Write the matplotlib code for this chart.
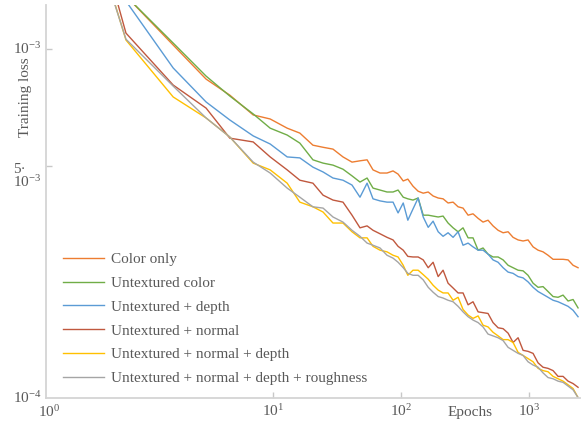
import matplotlib.pyplot as plt
from matplotlib.ticker import NullLocator

# epochs sampled along the curves (shared by all series)
epochs = [0.45, 0.71, 1.66, 3.0, 4.6, 7.0, 9.5, 12.9, 16.2, 20.5,
          24.6, 29.4, 35.2, 41.4, 47.8, 54.3, 60.4, 68.5, 77.7, 86.6,
          94.8, 104, 113, 124, 136, 149, 163, 178, 195, 213,
          233, 255, 279, 305, 334, 365, 400, 437, 478, 523,
          573, 627, 686, 750, 821, 898, 982, 1075, 1176, 1286,
          1407, 1540, 1685, 1843, 2017, 2207, 2414]

# training loss, in units of 1e-4
color_only = [16.05, 13.69, 10.24, 8.37, 7.61, 6.77, 6.61, 6.26, 6.08, 5.66,
              5.59, 5.53, 5.28, 5.12, 5.16, 5.19, 4.89, 4.80, 4.80, 4.86,
              4.77, 4.58, 4.63, 4.44, 4.31, 4.26, 4.29, 4.19, 4.14, 4.12,
              4.02, 4.04, 3.93, 3.90, 3.74, 3.77, 3.67, 3.59, 3.63, 3.51,
              3.42, 3.37, 3.39, 3.28, 3.23, 3.21, 3.23, 3.10, 3.04, 3.01,
              2.95, 2.88, 2.88, 2.88, 2.87, 2.78, 2.74]
untex_color = [15.96, 13.69, 10.36, 8.52, 7.57, 6.81, 6.26, 6.01, 5.73, 5.19,
               5.09, 5.03, 4.91, 4.72, 4.55, 4.66, 4.39, 4.34, 4.29, 4.29,
               4.34, 4.16, 4.12, 4.09, 4.14, 3.74, 3.74, 3.72, 3.70, 3.72,
               3.57, 3.47, 3.39, 3.47, 3.27, 3.27, 3.04, 3.08, 2.97, 2.92,
               2.92, 2.87, 2.78, 2.74, 2.70, 2.69, 2.62, 2.50, 2.44, 2.45,
               2.38, 2.31, 2.30, 2.33, 2.25, 2.27, 2.16]
untex_depth = [16.54, 13.28, 8.94, 7.31, 6.57, 5.98, 5.70, 5.28, 5.25, 4.97,
               4.83, 4.66, 4.60, 4.47, 4.16, 4.52, 4.12, 4.07, 4.04, 4.04,
               3.79, 4.02, 3.63, 3.88, 4.14, 3.70, 3.48, 3.61, 3.39, 3.30,
               3.37, 3.28, 3.39, 3.13, 3.17, 3.10, 3.04, 3.04, 2.97, 2.87,
               2.83, 2.74, 2.67, 2.65, 2.60, 2.58, 2.52, 2.44, 2.38, 2.34,
               2.30, 2.26, 2.24, 2.21, 2.18, 2.13, 2.05]
untex_normal = [18.84, 10.99, 8.08, 7.05, 5.90, 5.77, 5.28, 4.89, 4.60, 4.52,
                4.21, 4.09, 4.04, 3.74, 3.47, 3.51, 3.42, 3.35, 3.28, 3.23,
                3.11, 3.04, 2.93, 2.92, 2.92, 2.87, 2.74, 2.83, 2.60, 2.70,
                2.50, 2.43, 2.36, 2.36, 2.20, 2.24, 2.11, 2.10, 2.09, 1.98,
                1.92, 1.91, 1.86, 1.76, 1.81, 1.68, 1.67, 1.65, 1.56, 1.52,
                1.51, 1.49, 1.44, 1.44, 1.40, 1.38, 1.35]
untex_normal_depth = [17.24, 10.55, 7.53, 6.65, 5.94, 5.09, 4.89, 4.52, 4.04, 3.93,
                      3.81, 3.57, 3.57, 3.39, 3.27, 3.27, 3.11, 3.04, 3.01, 2.95,
                      2.92, 2.78, 2.62, 2.70, 2.70, 2.63, 2.56, 2.47, 2.40, 2.36,
                      2.36, 2.26, 2.30, 2.14, 2.07, 2.03, 2.06, 1.95, 1.93, 1.87,
                      1.83, 1.79, 1.79, 1.76, 1.66, 1.63, 1.60, 1.57, 1.51, 1.49,
                      1.48, 1.44, 1.42, 1.40, 1.37, 1.34, 1.27]
untex_all = [16.93, 10.60, 8.03, 6.65, 5.94, 5.12, 4.80, 4.39, 4.16, 3.93,
             3.90, 3.70, 3.59, 3.42, 3.30, 3.17, 3.13, 3.08, 2.95, 2.90,
             2.83, 2.74, 2.65, 2.62, 2.62, 2.55, 2.44, 2.37, 2.31, 2.29,
             2.26, 2.24, 2.18, 2.11, 2.05, 2.01, 1.98, 1.93, 1.85, 1.83,
             1.81, 1.78, 1.71, 1.68, 1.65, 1.63, 1.57, 1.54, 1.52, 1.47,
             1.43, 1.42, 1.40, 1.39, 1.36, 1.33, 1.27]

labels = ['Color only', 'Untextured color', 'Untextured + depth',
          'Untextured + normal', 'Untextured + normal + depth',
          'Untextured + normal + depth + roughness']
series = [color_only, untex_color, untex_depth, untex_normal,
          untex_normal_depth, untex_all]
colors = ['#ED7D31', '#70AD47', '#5B9BD5', '#C0583E', '#FFC000', '#A5A5A5']
unit = 1e-4

txt = '#595959'
plt.rcParams['font.family'] = 'Liberation Serif'
plt.rcParams['mathtext.fontset'] = 'custom'
plt.rcParams['mathtext.rm'] = 'Liberation Serif'
plt.rcParams['mathtext.it'] = 'Liberation Serif:italic'

fig = plt.figure(figsize=(5.87, 4.23), dpi=100)
ax = fig.add_axes([46 / 587, 25 / 423, 534 / 587, 393 / 423])

for ys, lab, c in zip(series, labels, colors):
    ax.plot(epochs, [v * unit for v in ys], color=c, lw=1.0, label=lab)

ax.set_xscale('log')
ax.set_yscale('log')
x0, y0 = 0.1685, 1.267e-4
ax.set_xlim(x0, 2500)
ax.set_ylim(y0, 1.298e-3)

for s in ['top', 'right']:
    ax.spines[s].set_visible(False)
for s in ['left', 'bottom']:
    ax.spines[s].set_color('#d4d4d4')
    ax.spines[s].set_linewidth(1.3)

ax.set_xticks([10, 100, 1000], labels=['$10^1$', '$10^2$', '$10^3$'])
ax.set_yticks([5e-4, 1e-3], labels=['', ''])
ax.xaxis.set_minor_locator(NullLocator())
ax.yaxis.set_minor_locator(NullLocator())
ax.tick_params(direction='in', length=4, color='#c8c8c8', width=1,
               labelcolor=txt, labelsize=11, pad=4)

ytr = ax.get_yaxis_transform()
xtr = ax.get_xaxis_transform()
ax.text(-0.008, 1e-3, '$10^{-3}$', transform=ytr, ha='right', va='center',
        fontsize=11, color=txt)
ax.text(-0.008, 5.1e-4, '5·\n$10^{-3}$', transform=ytr, ha='right', va='top',
        multialignment='left', linespacing=0.85, fontsize=11, color=txt)
ax.text(-0.008, y0, '$10^{-4}$', transform=ytr, ha='right', va='center',
        fontsize=11, color=txt)
ax.text(x0 * 1.05, -0.015, '$10^0$', transform=xtr, ha='center', va='top',
        fontsize=11, color=txt)
ax.text(346, -0.036, 'Epochs', transform=xtr, ha='center', va='center',
        fontsize=11, color=txt)
fig.text(26 / 587, 1 - 97 / 423, 'Training loss', rotation=90,
         ha='center', va='center', fontsize=11, color=txt)

ax.legend(loc='upper left', bbox_to_anchor=(0.031, 0.37), frameon=False,
          fontsize=11, handlelength=2.7, handletextpad=0.45, labelspacing=0.66,
          borderaxespad=0, borderpad=0, labelcolor=txt)

fig.savefig('out.png', dpi=100)
